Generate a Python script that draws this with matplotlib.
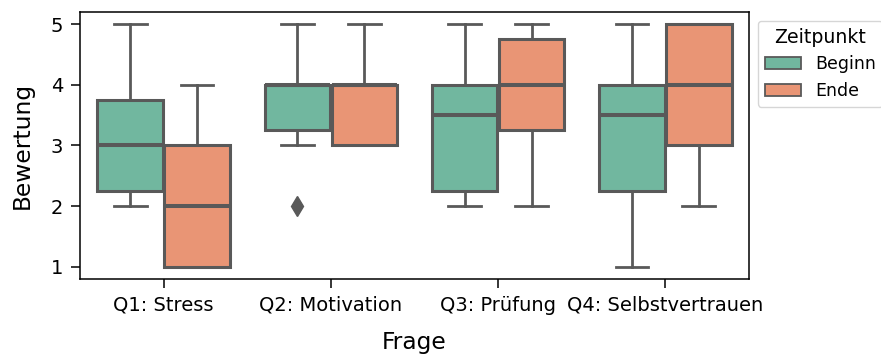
import matplotlib
matplotlib.use("Agg")
import matplotlib.pyplot as plt
from matplotlib.patches import Patch

# Data (raw responses per question and time point)
questions = ["Q1: Stress", "Q2: Motivation", "Q3: Prüfung", "Q4: Selbstvertrauen"]
hue_levels = ["Beginn", "Ende"]
q1_beginn = [2, 2, 3, 3, 4, 5]
q1_ende = [1, 1, 1, 3, 3, 4]
q2_beginn = [2, 3, 4, 4, 4, 5]
q2_ende = [3, 3, 4, 4, 5]
q3_beginn = [2, 2, 3, 4, 4, 5]
q3_ende = [2, 3, 4, 4, 5, 5]
q4_beginn = [1, 2, 3, 4, 4, 5]
q4_ende = [2, 3, 3, 5, 5, 5]
yticks = [1, 2, 3, 4, 5]

beginn = [q1_beginn, q2_beginn, q3_beginn, q4_beginn]
ende = [q1_ende, q2_ende, q3_ende, q4_ende]

colors = ["#71b79f", "#e99575"]
gray = "#595959"

fig = plt.figure(figsize=(8.81, 3.55), dpi=100)
ax = fig.add_axes([0.0908, 0.2141, 0.7594, 0.7521])

width = 0.8
nw = width / 2 * 0.98
for k, (series, off) in enumerate([(beginn, -0.2), (ende, 0.2)]):
    pos = [i + off for i in range(len(questions))]
    ax.boxplot(series, positions=pos, widths=nw, patch_artist=True,
               manage_ticks=False,
               boxprops=dict(facecolor=colors[k], edgecolor=gray, linewidth=2.2),
               whiskerprops=dict(color=gray, linewidth=2.0),
               capprops=dict(color=gray, linewidth=2.0),
               medianprops=dict(color=gray, linewidth=2.9),
               flierprops=dict(marker="d", markerfacecolor=gray, markeredgecolor=gray,
                               markersize=10))

ax.set_xlim(-0.5, len(questions) - 0.5)
ax.set_ylim(0.8, 5.2)
ax.set_xticks(range(len(questions)))
ax.set_xticklabels(questions, fontsize=14)
ax.set_yticks(yticks)
ax.set_yticklabels([str(v) for v in yticks], fontsize=14)
ax.tick_params(axis="both", length=6.5, width=1.1, pad=5.5)
for s in ax.spines.values():
    s.set_linewidth(1.1)
ax.set_xlabel("Frage", fontsize=16.8, labelpad=12)
ax.set_ylabel("Bewertung", fontsize=16.8, labelpad=12)

handles = [Patch(facecolor=c, edgecolor=gray, linewidth=1.3, label=l)
           for c, l in zip(colors, hue_levels)]
leg = ax.legend(handles=handles, title="Zeitpunkt", loc="upper left",
                bbox_to_anchor=(1.0, 1.0), fontsize=12.5, title_fontsize=13.6,
                handlelength=2.1)

fig.savefig("out.png", dpi=100)
